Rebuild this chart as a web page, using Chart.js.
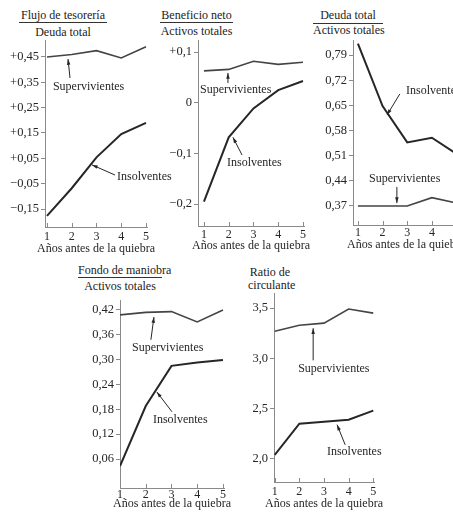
<!DOCTYPE html>
<html lang="es">
<head>
  <meta charset="UTF-8" />
  <title>Ratios: supervivientes e insolventes</title>
  <script src="https://cdn.jsdelivr.net/npm/chart.js"></script>
  <style>
    body { margin: 0; width: 453px; height: 515px; overflow: hidden; background: #fff; position: relative;
           font-family: "Liberation Serif", "DejaVu Serif", serif; color: #222; }
    canvas { position: absolute; }
    .t { position: absolute; font-size: 12px; line-height: 14px; text-align: center; white-space: nowrap; }
    .rule { position: absolute; height: 0; border-top: 1px solid #333; }
  </style>
</head>
<body>
  <!-- panel titles -->
  <div class="t" style="left:19px;top:8px;width:88px">Flujo de tesorería</div>
  <div class="rule" style="left:19px;top:22px;width:88px"></div>
  <div class="t" style="left:19px;top:25px;width:88px">Deuda total</div>

  <div class="t" style="left:160px;top:8px;width:73px">Beneficio neto</div>
  <div class="rule" style="left:160px;top:22px;width:73px"></div>
  <div class="t" style="left:160px;top:24px;width:73px">Activos totales</div>

  <div class="t" style="left:313px;top:8px;width:70px">Deuda total</div>
  <div class="rule" style="left:313px;top:23px;width:70px"></div>
  <div class="t" style="left:313px;top:23px;width:70px">Activos totales</div>

  <div class="t" style="left:78px;top:263px;width:84px">Fondo de maniobra</div>
  <div class="rule" style="left:78px;top:277px;width:84px"></div>
  <div class="t" style="left:78px;top:279px;width:84px">Activos totales</div>

  <div class="t" style="left:248px;top:265px;width:44px">Ratio de</div>
  <div class="t" style="left:248px;top:278px;width:44px">circulante</div>

  <canvas id="flujo" width="172" height="230" style="left:0px;top:30px"></canvas>
  <canvas id="beneficio" width="158" height="230" style="left:158px;top:30px"></canvas>
  <canvas id="deuda" width="158" height="230" style="left:312px;top:30px"></canvas>
  <canvas id="fondo" width="160" height="225" style="left:78px;top:290px"></canvas>
  <canvas id="ratio" width="155" height="232" style="left:236px;top:283px"></canvas>

  <script>
    const years = [1, 2, 3, 4, 5];
    const xTickLabels = ['1', '2', '3', '4', '5'];
    const xTitle = 'Años antes de la quiebra';
    const labelSuperv = 'Supervivientes';
    const labelInsolv = 'Insolventes';

    // Flujo de tesorería / Deuda total
    const flujoSuperv = [0.45, 0.46, 0.475, 0.446, 0.49];
    const flujoInsolv = [-0.177, -0.068, 0.054, 0.146, 0.19];
    const flujoTicks = [0.45, 0.35, 0.25, 0.15, 0.05, -0.05, -0.15];
    const flujoLabels = ['+0,45', '+0,35', '+0,25', '+0,15', '+0,05', '−0,05', '−0,15'];

    // Beneficio neto / Activos totales
    const benefSuperv = [0.063, 0.066, 0.082, 0.076, 0.08];
    const benefInsolv = [-0.195, -0.068, -0.011, 0.025, 0.043];
    const benefTicks = [0.1, 0, -0.1, -0.2];
    const benefLabels = ['+0,1', '0', '−0,1', '−0,2'];

    // Deuda total / Activos totales
    const deudaSuperv = [0.37, 0.37, 0.37, 0.393, 0.378];
    const deudaInsolv = [0.822, 0.648, 0.547, 0.56, 0.515];
    const deudaTicks = [0.79, 0.72, 0.65, 0.58, 0.51, 0.44, 0.37];
    const deudaLabels = ['0,79', '0,72', '0,65', '0,58', '0,51', '0,44', '0,37'];

    // Fondo de maniobra / Activos totales
    const fondoSuperv = [0.408, 0.414, 0.416, 0.391, 0.42];
    const fondoInsolv = [0.043, 0.188, 0.285, 0.293, 0.299];
    const fondoTicks = [0.42, 0.36, 0.30, 0.24, 0.18, 0.12, 0.06];
    const fondoLabels = ['0,42', '0,36', '0,30', '0,24', '0,18', '0,12', '0,06'];

    // Ratio de circulante
    const ratioSuperv = [3.27, 3.33, 3.35, 3.49, 3.45];
    const ratioInsolv = [2.04, 2.35, 2.37, 2.39, 2.48];
    const ratioTicks = [3.5, 3.0, 2.5, 2.0];
    const ratioLabels = ['3,5', '3,0', '2,5', '2,0'];

    const INK = '#262626';
    const AXIS = '#8a8a8a';
    const FONT = '"Liberation Serif", "DejaVu Serif", serif';

    // little tick marks pointing up into the plot from the x axis,
    // plus the x axis title (Chart.js squeezes it to the axis width otherwise)
    const innerTicks = {
      id: 'innerTicks',
      afterDraw(chart, args, opts) {
        const { ctx, chartArea, scales: { x } } = chart;
        ctx.save();
        ctx.strokeStyle = AXIS;
        ctx.lineWidth = 1;
        years.forEach(v => {
          const px = Math.round(x.getPixelForValue(v)) + 0.5;
          ctx.beginPath();
          ctx.moveTo(px, chartArea.bottom);
          ctx.lineTo(px, chartArea.bottom - 4);
          ctx.stroke();
        });
        ctx.fillStyle = INK;
        ctx.font = '12px ' + FONT;
        ctx.textAlign = 'center';
        ctx.textBaseline = 'middle';
        ctx.fillText(xTitle, (chartArea.left + chartArea.right) / 2, chart.height - opts.titleOffset);
        ctx.restore();
      }
    };

    // the "Supervivientes" / "Insolventes" labels with their arrows
    const arrowNotes = {
      id: 'arrowNotes',
      afterDraw(chart, args, opts) {
        const { ctx, scales: { x, y } } = chart;
        ctx.save();
        ctx.fillStyle = INK;
        ctx.strokeStyle = INK;
        ctx.lineWidth = 1;
        ctx.font = '12px ' + FONT;
        ctx.textAlign = 'left';
        ctx.textBaseline = 'middle';
        (opts.notes || []).forEach(n => {
          ctx.fillText(n.text, x.getPixelForValue(n.x), y.getPixelForValue(n.y));
          const x0 = x.getPixelForValue(n.from[0]), y0 = y.getPixelForValue(n.from[1]);
          const x1 = x.getPixelForValue(n.to[0]), y1 = y.getPixelForValue(n.to[1]);
          ctx.beginPath();
          ctx.moveTo(x0, y0);
          ctx.lineTo(x1, y1);
          ctx.stroke();
          const a = Math.atan2(y1 - y0, x1 - x0);
          ctx.beginPath();
          ctx.moveTo(x1, y1);
          ctx.lineTo(x1 - 6 * Math.cos(a - 0.3), y1 - 6 * Math.sin(a - 0.3));
          ctx.lineTo(x1 - 6 * Math.cos(a + 0.3), y1 - 6 * Math.sin(a + 0.3));
          ctx.closePath();
          ctx.fill();
        });
        ctx.restore();
      }
    };

    function makePanel(id, p) {
      new Chart(document.getElementById(id), {
        type: 'line',
        data: {
          datasets: [
            { label: labelSuperv, data: years.map((v, i) => ({ x: v, y: p.superv[i] })), borderColor: '#444', borderWidth: 1.6 },
            { label: labelInsolv, data: years.map((v, i) => ({ x: v, y: p.insolv[i] })), borderColor: INK, borderWidth: 2 }
          ]
        },
        options: {
          responsive: false,
          animation: false,
          layout: { padding: { top: p.pt, right: p.pr, left: 0, bottom: 0 } },
          elements: { point: { radius: 0 }, line: { tension: 0 } },
          plugins: {
            legend: { display: false },
            tooltip: { enabled: false },
            arrowNotes: { notes: p.notes },
            innerTicks: { titleOffset: p.titleOffset }
          },
          scales: {
            x: {
              type: 'linear',
              min: p.xMin,
              max: p.xMax,
              afterBuildTicks: s => { s.ticks = years.map(v => ({ value: v })); },
              afterFit: s => { s.height = p.xh; },
              grid: { display: false, drawTicks: false },
              border: { color: AXIS },
              ticks: {
                autoSkip: false, maxRotation: 0, padding: p.xPad, color: INK,
                font: { family: FONT, size: 12 },
                callback: (v, i) => xTickLabels[i]
              }
            },
            y: {
              min: p.yMin,
              max: p.yMax,
              afterBuildTicks: s => { s.ticks = p.yTicks.map(v => ({ value: v })); },
              afterFit: s => { s.width = p.yw; },
              grid: { drawOnChartArea: false, tickLength: 4, color: AXIS },
              border: { color: AXIS },
              ticks: {
                autoSkip: false, padding: 2, color: INK,
                font: { family: FONT, size: 12.5 },
                callback: (v, i) => p.yLabels[i]
              }
            }
          }
        },
        plugins: [innerTicks, arrowNotes]
      });
    }

    makePanel('flujo', {
      superv: flujoSuperv, insolv: flujoInsolv, yTicks: flujoTicks, yLabels: flujoLabels,
      yMin: -0.221, yMax: 0.517, xMin: 0.92, xMax: 5.04,
      yw: 45, xh: 33, pt: 10, pr: 25, xPad: 3, titleOffset: 11,
      notes: [
        { text: labelSuperv, x: 1.24, y: 0.332, from: [1.93, 0.367], to: [1.85, 0.442] },
        { text: labelInsolv, x: 3.83, y: -0.024, from: [3.75, -0.016], to: [2.82, 0.024] }
      ]
    });

    makePanel('beneficio', {
      superv: benefSuperv, insolv: benefInsolv, yTicks: benefTicks, yLabels: benefLabels,
      yMin: -0.243, yMax: 0.124, xMin: 0.76, xMax: 5.04,
      yw: 40, xh: 34, pt: 10, pr: 12, xPad: 2, titleOffset: 14,
      notes: [
        { text: labelSuperv, x: 0.84, y: 0.025, from: [1.97, 0.039], to: [1.97, 0.059] },
        { text: labelInsolv, x: 1.93, y: -0.119, from: [2.54, -0.103], to: [2.17, -0.068] }
      ]
    });

    makePanel('deuda', {
      superv: deudaSuperv, insolv: deudaInsolv, yTicks: deudaTicks, yLabels: deudaLabels,
      yMin: 0.317, yMax: 0.832, xMin: 0.8, xMax: 5.1,
      yw: 41, xh: 35, pt: 10, pr: 11, xPad: 1, titleOffset: 15,
      notes: [
        { text: labelInsolv, x: 2.95, y: 0.69, from: [2.70, 0.682], to: [2.18, 0.623] },
        { text: labelSuperv, x: 1.45, y: 0.445, from: [2.58, 0.423], to: [2.58, 0.378] }
      ]
    });

    makePanel('fondo', {
      superv: fondoSuperv, insolv: fondoInsolv, yTicks: fondoTicks, yLabels: fondoLabels,
      yMin: -0.01, yMax: 0.444, xMin: 1, xMax: 5.04,
      yw: 42, xh: 27, pt: 10, pr: 14, xPad: 0, titleOffset: 11,
      notes: [
        { text: labelSuperv, x: 1.47, y: 0.328, from: [2.2, 0.348], to: [2.32, 0.403] },
        { text: labelInsolv, x: 2.28, y: 0.154, from: [3.02, 0.174], to: [2.43, 0.222] }
      ]
    });

    makePanel('ratio', {
      superv: ratioSuperv, insolv: ratioInsolv, yTicks: ratioTicks, yLabels: ratioLabels,
      yMin: 1.77, yMax: 3.65, xMin: 0.97, xMax: 5.03,
      yw: 38, xh: 33, pt: 10, pr: 17, xPad: 3, titleOffset: 11,
      notes: [
        { text: labelSuperv, x: 1.95, y: 2.90, from: [2.56, 2.98], to: [2.56, 3.30] },
        { text: labelInsolv, x: 3.12, y: 2.07, from: [3.86, 2.14], to: [3.53, 2.34] }
      ]
    });
  </script>
</body>
</html>
